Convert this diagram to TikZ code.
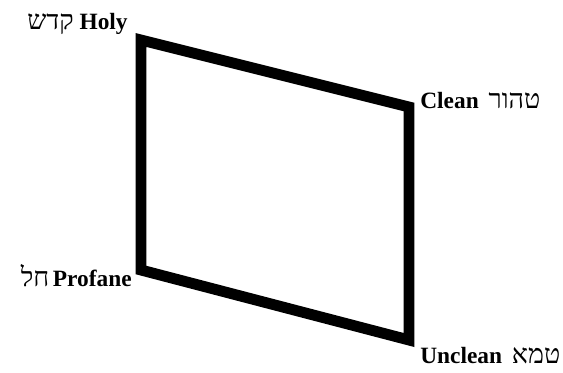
\documentclass[tikz,border=0pt]{standalone}
\usepackage{fontspec}
\setmainfont{Liberation Serif}
\newfontfamily\hebfont[Script=Hebrew,Scale=1.15]{Liberation Serif}
\TeXXeTstate=1
\usetikzlibrary{positioning}
\newcommand{\heb}[1]{{\hebfont\beginR #1\endR}}

\begin{document}
\begin{tikzpicture}[x=0.02cm, y=-0.02cm,
        frame/.style={draw=black, line width=6.2pt, line join=miter},
        cornerlabel/.style={font=\fontsize{13.3}{15}\selectfont, inner sep=0pt},
      ]
      \useasboundingbox (0,0) rectangle (563,372);

      \coordinate (holy) at (141,40);
      \coordinate (clean) at (409,107);
      \coordinate (unclean) at (409,340);
      \coordinate (profane) at (141,270);

      \draw[frame] (holy) -- (clean) -- (unclean) -- (profane) -- cycle;

      \node[cornerlabel, anchor=base east] (holylbl) at (128,30) {\heb{קדש}~\textbf{Holy}};
      \node[cornerlabel, anchor=base west] (cleanlbl) at (420,108) {\textbf{Clean}\hspace{5.6pt}\heb{טהור}};
      \node[cornerlabel, anchor=base east] (profanelbl) at (132,286) {\heb{חל}\hspace{2pt}\textbf{Profane}};
      \node[cornerlabel, anchor=base west] (uncleanlbl) at (420,363) {\textbf{Unclean}\hspace{5.6pt}\heb{טמא}};
    \end{tikzpicture}
\end{document}
